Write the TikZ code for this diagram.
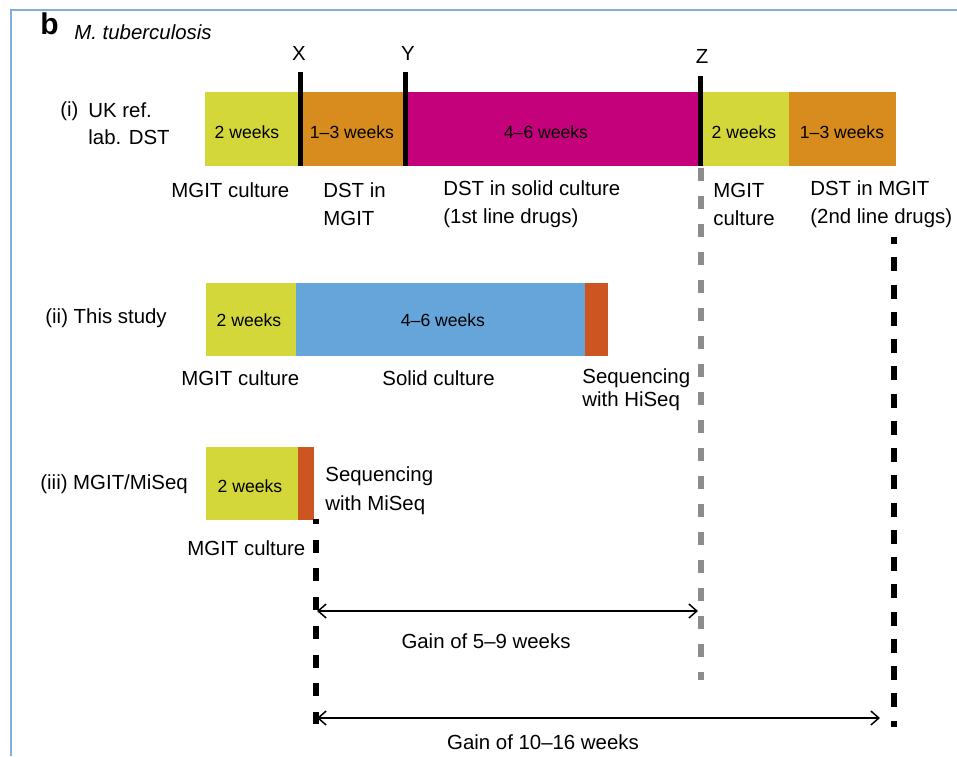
\documentclass[tikz,border=0pt]{standalone}
\usepackage{fontspec}
\setmainfont{Liberation Sans}
\usetikzlibrary{arrows.meta}
\definecolor{mgityellow}{HTML}{D4D73A}
\definecolor{dstorange}{HTML}{D98C1E}
\definecolor{solidmagenta}{HTML}{C4007A}
\definecolor{solidblue}{HTML}{66A5D9}
\definecolor{seqred}{HTML}{CC5522}
\definecolor{frameblue}{HTML}{7FAEDD}
\definecolor{zgray}{HTML}{8C8C8C}
\begin{document}
\begin{tikzpicture}[x=0.5pt, y=-0.5pt,
    lbl/.style={font=\fontsize{10.2}{14}\selectfont, inner sep=0pt, align=left, anchor=west},
    wk/.style={font=\fontsize{8.8}{10}\selectfont, inner sep=0pt},
    tick/.style={line width=2.5pt},
    gainarrow/.style={line width=0.75pt, {Straight Barb[length=4pt,width=7pt]}-{Straight Barb[length=4pt,width=7pt]}}]
    \useasboundingbox (0,0) rectangle (957,756);
    % Frame
    \draw[frameblue, line width=1pt] (11,756) -- (11,9.5) -- (957,9.5);
    \node[anchor=west, inner sep=0pt, font=\fontsize{15}{16}\selectfont\bfseries] (panel) at (40,24) {b};
    \node[lbl, font=\fontsize{10.2}{12}\selectfont\itshape] (species) at (74,32) {M. tuberculosis};
    % (i) UK REF. LAB. DST
    \foreach \xa/\xb/\col in {205/300/mgityellow, 300/405/dstorange, 405/700/solidmagenta, 700/789/mgityellow, 789/896/dstorange} {
        \fill[\col] (\xa,92) rectangle (\xb,166);
    }
    \foreach \x/\txt [count=\i] in {247/2 weeks, 352/1–3 weeks, 546/4–6 weeks, 744/2 weeks, 842/1–3 weeks} {
        \node[wk] (wkA\i) at (\x,132) {\txt};
    }
    % Checkpoints X, Y, Z
    \foreach \x/\y/\lbl in {300/72/X, 405/72/Y, 700/76/Z} {
        \draw[tick] (\x,\y) -- (\x,166);
    }
    \node[lbl, anchor=center] (ptX) at (299,53) {X};
    \node[lbl, anchor=center] (ptY) at (408,53) {Y};
    \node[lbl, anchor=center] (ptZ) at (702,56) {Z};
    \node[lbl] (rowA) at (60,111.5) {(i)};
    \node[lbl, font=\fontsize{10.2}{13.5}\selectfont] (rowAname) at (88,123.5) {UK ref.\\lab. DST};
    \node[lbl] (stepA1) at (171,190) {MGIT culture};
    \node[lbl] (stepA2) at (323,204) {DST in\\MGIT};
    \node[lbl] (stepA3) at (443,204) {DST in solid culture\\(1st line drugs)};
    \node[lbl] (stepA4) at (713,204) {MGIT\\culture};
    \node[lbl] (stepA5) at (810,204) {DST in MGIT\\(2nd line drugs)};
    % (ii) THIS STUDY
    \foreach \xa/\xb/\col in {206/296/mgityellow, 296/585/solidblue, 585/608/seqred} {
        \fill[\col] (\xa,283) rectangle (\xb,356);
    }
    \node[wk] (wkB1) at (249,320) {2 weeks};
    \node[wk] (wkB2) at (443,320) {4–6 weeks};
    \node[lbl] (rowB) at (45,318) {(ii) This study};
    \node[lbl] (stepB1) at (181,378) {MGIT culture};
    \node[lbl] (stepB2) at (382,378) {Solid culture};
    \node[lbl, font=\fontsize{10.2}{11.5}\selectfont] (stepB3) at (582,389.5) {Sequencing\\with HiSeq};
    % (iii) MGIT/MISEQ
    \foreach \xa/\xb/\col in {206/298/mgityellow, 298/314/seqred} {
        \fill[\col] (\xa,447) rectangle (\xb,520);
    }
    \node[wk] (wkC1) at (250,486) {2 weeks};
    \node[lbl] (rowC) at (40,484) {(iii) MGIT/MiSeq};
    \node[lbl, font=\fontsize{10.2}{14.5}\selectfont] (stepC2) at (325,490.5) {Sequencing\\with MiSeq};
    \node[lbl] (stepC1) at (187,548) {MGIT culture};
    % Time lines
    \coordinate (zTop) at (701,168);
    \coordinate (zEnd) at (701,680);
    \coordinate (miTop) at (316,519);
    \coordinate (miEnd) at (316,724);
    \coordinate (dstTop) at (894,237);
    \coordinate (dstEnd) at (894,727);
    \draw[zgray, line width=3pt, dash pattern=on 6.5pt off 7.5pt] (zTop) -- (zEnd);
    \draw[line width=3pt, dash pattern=on 6.5pt off 7.85pt, dash phase=4pt] (miTop) -- (miEnd);
    \draw[line width=3.3pt, dash pattern=on 7pt off 6.625pt, dash phase=3.5pt] (dstTop) -- (dstEnd);
    % Gains
    \coordinate (gainAl) at (317,611);
    \coordinate (gainAr) at (698,611);
    \coordinate (gainBl) at (317,718);
    \coordinate (gainBr) at (880,718);
    \draw[gainarrow] (gainAl) -- (gainAr);
    \draw[gainarrow] (gainBl) -- (gainBr);
    \node[lbl, anchor=center] (gainA) at (486,641) {Gain of 5–9 weeks};
    \node[lbl, anchor=center] (gainB) at (543,742) {Gain of 10–16 weeks};
\end{tikzpicture}
\end{document}
